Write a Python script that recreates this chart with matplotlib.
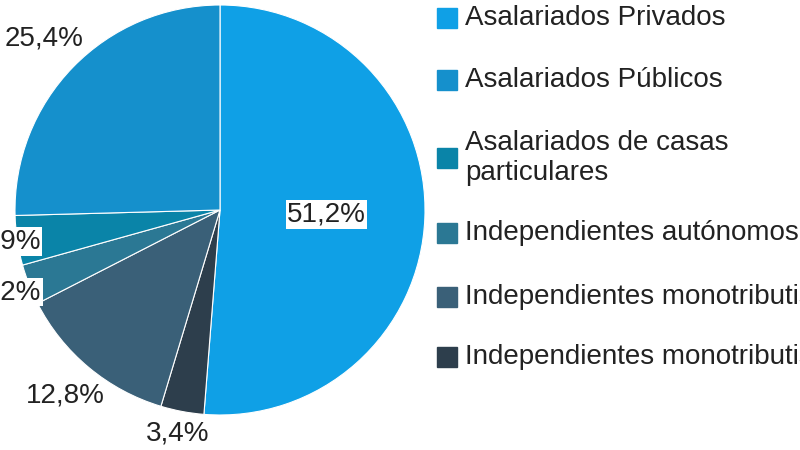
import matplotlib
matplotlib.use("Agg")
import matplotlib.pyplot as plt
import numpy as np

labels = ["Asalariados Privados", "Independientes monotributistas sociales",
          "Independientes monotributistas", "Independientes autónomos",
          "Asalariados de casas\nparticulares", "Asalariados Públicos"]
values = [51.2, 3.4, 12.8, 3.2, 3.9, 25.4]
pct_text = ["51,2%", "3,4%", "12,8%", "3,2%", "3,9%", "25,4%"]
colors = ["#0fa0e6", "#2d3e4c", "#3a6078", "#2b7894", "#0a84a8", "#1590cc"]
legend_order = [0, 5, 4, 3, 2, 1]
legend_y = [18, 80, 158, 233, 297, 357]

plt.rcParams['font.family'] = ['Liberation Sans', 'DejaVu Sans']
fig = plt.figure(figsize=(8, 4.5), dpi=100)
ax = fig.add_axes([15/800, 35/450, 410/800, 410/450])
wedges, _ = ax.pie(values, colors=colors, startangle=90, counterclock=False,
                   radius=1, wedgeprops=dict(edgecolor="white", linewidth=0.8))
ax.set_xlim(-1, 1); ax.set_ylim(-1, 1); ax.set_aspect("equal")
ax.axis("off")
for w in wedges:
    w.set_clip_on(False)

dists = [0.52, 1.11, 1.18, 1.1, 1.04, 1.2]
boxed = [True, False, False, True, True, True]
for w, t, d, b in zip(wedges, pct_text, dists, boxed):
    ang = np.deg2rad((w.theta1 + w.theta2) / 2)
    x, y = d*np.cos(ang), d*np.sin(ang)
    kw = {}
    if b:
        kw["bbox"] = dict(facecolor="white", edgecolor="none", pad=1)
    ax.text(x, y, t, ha="center", va="center", fontsize=20, color="#222222",
            clip_on=False, **kw)

for yy, i in zip(legend_y, legend_order):
    fig.patches.append(plt.Rectangle((437/800, 1-(yy+10)/450), 20/800, 20/450,
                                     transform=fig.transFigure, color=colors[i]))
    fig.text(465/800, 1-yy/450, labels[i], ha="left", va="center",
             fontsize=20, color="#222222", linespacing=1.15)

fig.savefig("out.png", dpi=100)
